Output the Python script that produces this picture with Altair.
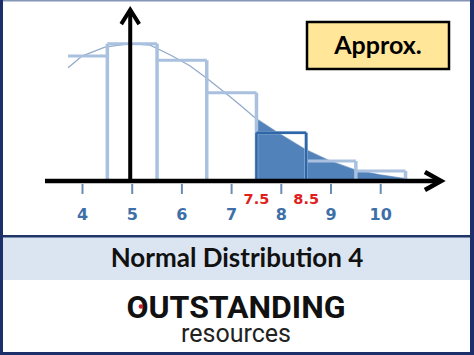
import altair as alt
import pandas as pd

# ---------------- data ----------------
bar_centers = [4, 5, 6, 7, 8, 9, 10]
bar_heights = [0.181, 0.199, 0.175, 0.128, 0.070, 0.029, 0.0145]
highlight_bar = 8

curve_x = [3.71, 3.99, 4.45, 4.96, 5.36, 5.76, 6.16, 6.5, 6.97, 7.17, 7.5,
           7.93, 8.5, 8.98, 9.48, 9.98, 10.53]
curve_y = [0.164, 0.181, 0.194, 0.199, 0.197, 0.183, 0.167, 0.149, 0.122,
           0.110, 0.090, 0.070, 0.045, 0.029, 0.016, 0.009, 0.003]
shade_from = 7.5

tick_values = [4, 5, 6, 7, 8, 9, 10]
tick_labels = ["4", "5", "6", "7", "8", "9", "10"]
bound_values = [7.5, 8.5]
bound_labels = ["7.5", "8.5"]

x_axis_start, x_axis_end = 3.245, 11.19
y_axis_x, y_axis_top = 4.96, 0.248
x_arrow_pos, y_arrow_pos = 11.052, 0.2377

title_text = "Normal Distribution 4"
box_text = "Approx."
logo_main = "OUTSTANDING"
logo_sub = "resources"

# ---------------- scales ----------------
W, H = 474, 355
xs = alt.Scale(domain=[2.34, 11.877], nice=False, zero=False)
ys = alt.Scale(domain=[-0.2522, 0.2623], nice=False, zero=False)

LIGHT = "#a9c1df"
DARK = "#2e66a6"

# ---------------- derived tables ----------------
left_lim = curve_x[0]
tops = pd.DataFrame({
    "l": [max(c - 0.5, left_lim) for c in bar_centers],
    "r": [c + 0.5 for c in bar_centers],
    "h": bar_heights,
    "c": bar_centers,
})
bounds = [c + 0.5 for c in bar_centers]
edge_h = []
for i, b in enumerate(bounds):
    nxt = bar_heights[i + 1] if i + 1 < len(bar_heights) else 0
    edge_h.append(max(bar_heights[i], nxt))
edges = pd.DataFrame({"b": bounds, "h": edge_h, "z": 0.0})

hi = bar_centers.index(highlight_bar)
dark = pd.DataFrame({
    "l": [highlight_bar - 0.5, highlight_bar - 0.5, highlight_bar + 0.5],
    "r": [highlight_bar + 0.5, highlight_bar - 0.5, highlight_bar + 0.5],
    "y1": [bar_heights[hi], 0.0, 0.0],
    "y2": [bar_heights[hi], bar_heights[hi], bar_heights[hi]],
})

curve = pd.DataFrame({"x": curve_x, "y": curve_y})
shade = curve[curve["x"] >= shade_from].reset_index(drop=True)
shade["z"] = 0.0

ticks = pd.DataFrame({"v": tick_values, "t": tick_labels})
bnd = pd.DataFrame({"v": bound_values, "t": bound_labels})

axis_h = pd.DataFrame({"x": [x_axis_start], "x2": [x_axis_end], "y": [0.0]})
axis_v = pd.DataFrame({"x": [y_axis_x], "y": [0.0], "y2": [y_axis_top]})
arrow_r = pd.DataFrame({"x": [x_arrow_pos], "y": [0.0]})
arrow_u = pd.DataFrame({"x": [y_axis_x], "y": [y_arrow_pos]})

one = pd.DataFrame({"a": [0]})


def X(f):
    return alt.X(f, scale=xs, axis=None)


def Y(f):
    return alt.Y(f, scale=ys, axis=None, stack=None)


# ---------------- frame / decoration ----------------
band = alt.Chart(one).mark_rect(color="#dbe5f1").encode(
    x=alt.value(3), x2=alt.value(470), y=alt.value(237), y2=alt.value(280))
sep = alt.Chart(one).mark_rect(color="#1f3468").encode(
    x=alt.value(3), x2=alt.value(470), y=alt.value(235), y2=alt.value(237.5))
b_left = alt.Chart(one).mark_rect(color="#1c2f6b").encode(
    x=alt.value(0), x2=alt.value(3), y=alt.value(0), y2=alt.value(355))
b_right = alt.Chart(one).mark_rect(color="#1c2f6b").encode(
    x=alt.value(470), x2=alt.value(474), y=alt.value(0), y2=alt.value(355))
b_bottom = alt.Chart(one).mark_rect(color="#1c2f6b").encode(
    x=alt.value(0), x2=alt.value(474), y=alt.value(352), y2=alt.value(355))
b_top = alt.Chart(one).mark_rect(color="#8595b8").encode(
    x=alt.value(0), x2=alt.value(474), y=alt.value(0), y2=alt.value(1.5))

box = alt.Chart(one).mark_rect(fill="#ffe699", stroke="black", strokeWidth=2.5).encode(
    x=alt.value(307), x2=alt.value(449), y=alt.value(22), y2=alt.value(69))
box_t = alt.Chart(one).mark_text(text=box_text, font="Lato", fontWeight="bold",
                                 fontSize=25, color="black", align="center",
                                 baseline="alphabetic").encode(
    x=alt.value(378), y=alt.value(54))

title_t = alt.Chart(one).mark_text(text=title_text, font="Lato", fontWeight="bold",
                                   fontSize=26, color="#111111", align="center",
                                   baseline="alphabetic").encode(
    x=alt.value(237), y=alt.value(267))

logo_t = alt.Chart(one).mark_text(text=logo_main, font="Roboto", fontWeight="bold",
                                  fontSize=32, color="#111111", align="center",
                                  baseline="alphabetic").encode(
    x=alt.value(236), y=alt.value(318))
logo_dot = alt.Chart(one).mark_point(shape="circle", filled=True, color="#c8202a",
                                     size=22, opacity=1).encode(
    x=alt.value(141), y=alt.value(306.5))
logo_s = alt.Chart(one).mark_text(text=logo_sub, font="Roboto", fontWeight="normal",
                                  fontSize=25, color="#222222", align="center",
                                  baseline="alphabetic").encode(
    x=alt.value(236), y=alt.value(342))

# ---------------- plot ----------------
curve_line = alt.Chart(curve).mark_line(color="#92abcb", strokeWidth=1.3).encode(
    x=X("x:Q"), y=Y("y:Q"))
shade_area = alt.Chart(shade).mark_area(color="#5282ba", opacity=1).encode(
    x=X("x:Q"), y=Y("y:Q"), y2=alt.Y2("z:Q"))

top_rules = alt.Chart(tops).mark_rule(color=LIGHT, strokeWidth=3).encode(
    x=X("l:Q"), x2="r:Q", y=Y("h:Q"))
edge_rules = alt.Chart(edges).mark_rule(color=LIGHT, strokeWidth=3.5).encode(
    x=X("b:Q"), y=Y("z:Q"), y2="h:Q")
dark_rules = alt.Chart(dark).mark_rule(color=DARK, strokeWidth=2.5).encode(
    x=X("l:Q"), x2="r:Q", y=Y("y1:Q"), y2="y2:Q")

tick_marks = alt.Chart(ticks).mark_rule(color="#6a8db6", strokeWidth=2).encode(
    x=X("v:Q"), y=alt.value(184), y2=alt.value(194))
tick_text = alt.Chart(ticks).mark_text(font="DejaVu Sans", fontWeight="bold",
                                       fontSize=16, color="#3e6fa8", align="center",
                                       baseline="alphabetic").encode(
    x=X("v:Q"), y=alt.value(220), text="t:N")
bnd_text = alt.Chart(bnd).mark_text(font="DejaVu Sans", fontWeight="bold",
                                    fontSize=14.5, color="#e0201b", align="center",
                                    baseline="alphabetic").encode(
    x=X("v:Q"), y=alt.value(204), text="t:N")

ax_h = alt.Chart(axis_h).mark_rule(color="black", strokeWidth=4.5).encode(
    x=X("x:Q"), x2="x2:Q", y=Y("y:Q"))
ax_v = alt.Chart(axis_v).mark_rule(color="black", strokeWidth=4).encode(
    x=X("x:Q"), y=Y("y:Q"), y2="y2:Q")
arr_r = alt.Chart(arrow_r).mark_point(shape="M-0.9,-1L0.9,0L-0.9,1", filled=False,
                                      stroke="black", strokeWidth=4.5, size=324,
                                      opacity=1, strokeJoin="miter").encode(
    x=X("x:Q"), y=Y("y:Q"))
arr_u = alt.Chart(arrow_u).mark_point(shape="M-1,0.8L0,-0.8L1,0.8", filled=False,
                                      stroke="black", strokeWidth=4, size=324,
                                      opacity=1, strokeJoin="miter").encode(
    x=X("x:Q"), y=Y("y:Q"))

chart = alt.layer(
    band, sep, b_top, b_left, b_right, b_bottom,
    curve_line, shade_area, top_rules, edge_rules, dark_rules,
    tick_marks, tick_text, bnd_text, ax_h, ax_v, arr_r, arr_u,
    box, box_t, title_t, logo_t, logo_dot, logo_s,
).properties(
    width=W, height=H, padding=0, background="white",
    autosize=alt.AutoSizeParams(type="none"),
).configure_view(strokeWidth=0)

chart.save("out.html", embed_options={"renderer": "svg", "actions": False})
